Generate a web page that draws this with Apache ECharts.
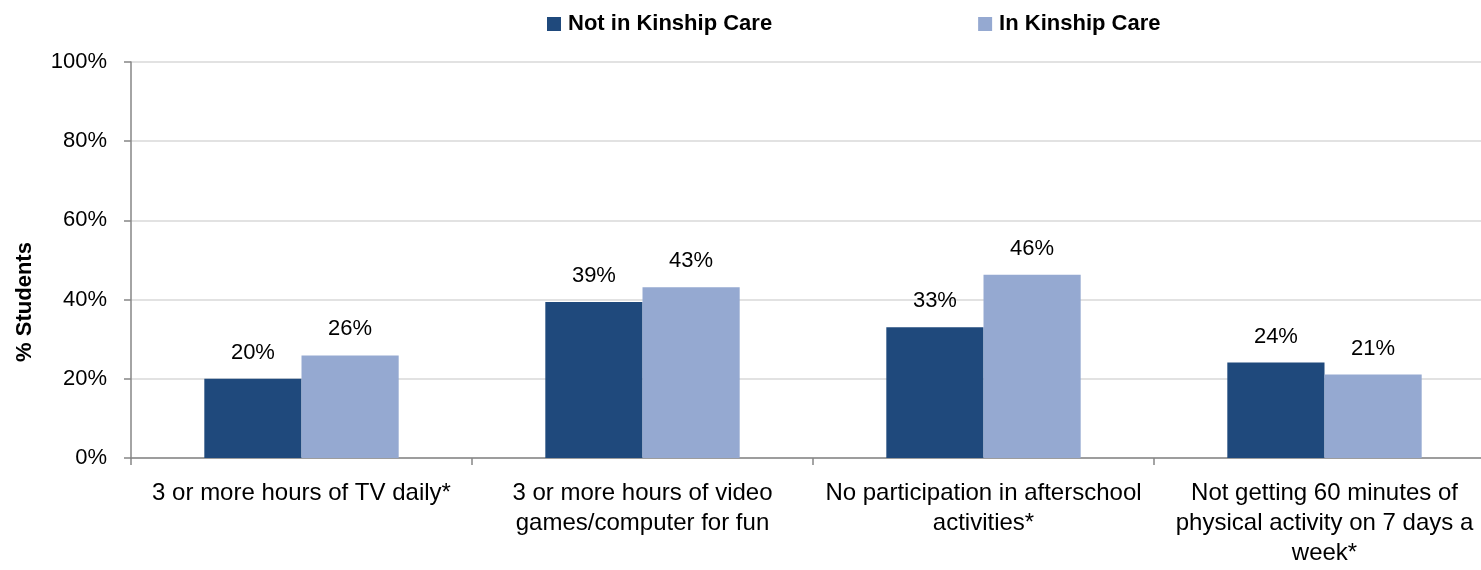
<!DOCTYPE html>
<html>
<head>
<meta charset="utf-8">
<script src="https://cdn.jsdelivr.net/npm/echarts@6/dist/echarts.min.js"></script>
<style>
html,body{margin:0;padding:0;background:#fff;}
#chart{width:1481px;height:570px;}
</style>
</head>
<body>
<div id="chart"></div>
<script>
const categories = [
  "3 or more hours of TV daily*",
  "3 or more hours of video\ngames/computer for fun",
  "No participation in afterschool\nactivities*",
  "Not getting 60 minutes of\nphysical activity on 7 days a\nweek*"
];
const seriesNames = ["Not in Kinship Care", "In Kinship Care"];
const notInKinship = [20.0, 39.4, 33.0, 24.1];
const inKinship = [25.9, 43.1, 46.3, 21.1];
const yTicks = [0, 20, 40, 60, 80, 100];
const axisName = "% Students";

const FONT = "'Liberation Sans', Arial, sans-serif";
const chart = echarts.init(document.getElementById('chart'));
const labelCfg = {
  show: true, position: 'top', distance: 15,
  color: '#000', fontFamily: FONT, fontSize: 22,
  formatter: p => Math.round(p.value) + '%'
};
chart.setOption({
  animation: false,
  textStyle: { fontFamily: FONT },
  legend: {
    top: 8, left: 542, itemGap: 206,
    itemWidth: 14, itemHeight: 14, icon: 'rect',
    textStyle: { fontFamily: FONT, fontWeight: 'bold', fontSize: 22, color: '#000', padding: [0, 0, 0, 2] },
    data: seriesNames
  },
  grid: { left: 131, right: -14, top: 62, bottom: 112, outerBoundsMode: 'none', containLabel: false },
  xAxis: {
    type: 'category', data: categories,
    axisLine: { lineStyle: { color: '#868686', width: 1.5 } },
    axisTick: { show: true, length: 7, lineStyle: { color: '#868686', width: 1.5 } },
    axisLabel: { color: '#000', fontFamily: FONT, fontSize: 24, lineHeight: 30, margin: 20, interval: 0 }
  },
  yAxis: {
    type: 'value', min: yTicks[0], max: yTicks[yTicks.length - 1], interval: 20,
    axisLine: { show: true, lineStyle: { color: '#868686', width: 1.5 } },
    axisTick: { show: true, length: 7, lineStyle: { color: '#868686', width: 1.5 } },
    splitLine: { lineStyle: { color: '#d9d9d9', width: 1.5 } },
    axisLabel: { color: '#000', fontFamily: FONT, fontSize: 22, margin: 24, formatter: '{value}%' }
  },
  graphic: [{
    type: 'text', x: 25, y: 302, rotation: Math.PI / 2,
    style: { text: axisName, fontFamily: FONT, fontWeight: 'bold', fontSize: 22, fill: '#000',
             textAlign: 'center', textVerticalAlign: 'middle' }
  }],
  series: [
    { name: seriesNames[0], type: 'bar', data: notInKinship, barGap: '0%', barCategoryGap: '43%',
      itemStyle: { color: '#1f497c' }, label: labelCfg },
    { name: seriesNames[1], type: 'bar', data: inKinship, barGap: '0%', barCategoryGap: '43%',
      itemStyle: { color: '#95a9d1' }, label: labelCfg }
  ]
});
</script>
</body>
</html>
